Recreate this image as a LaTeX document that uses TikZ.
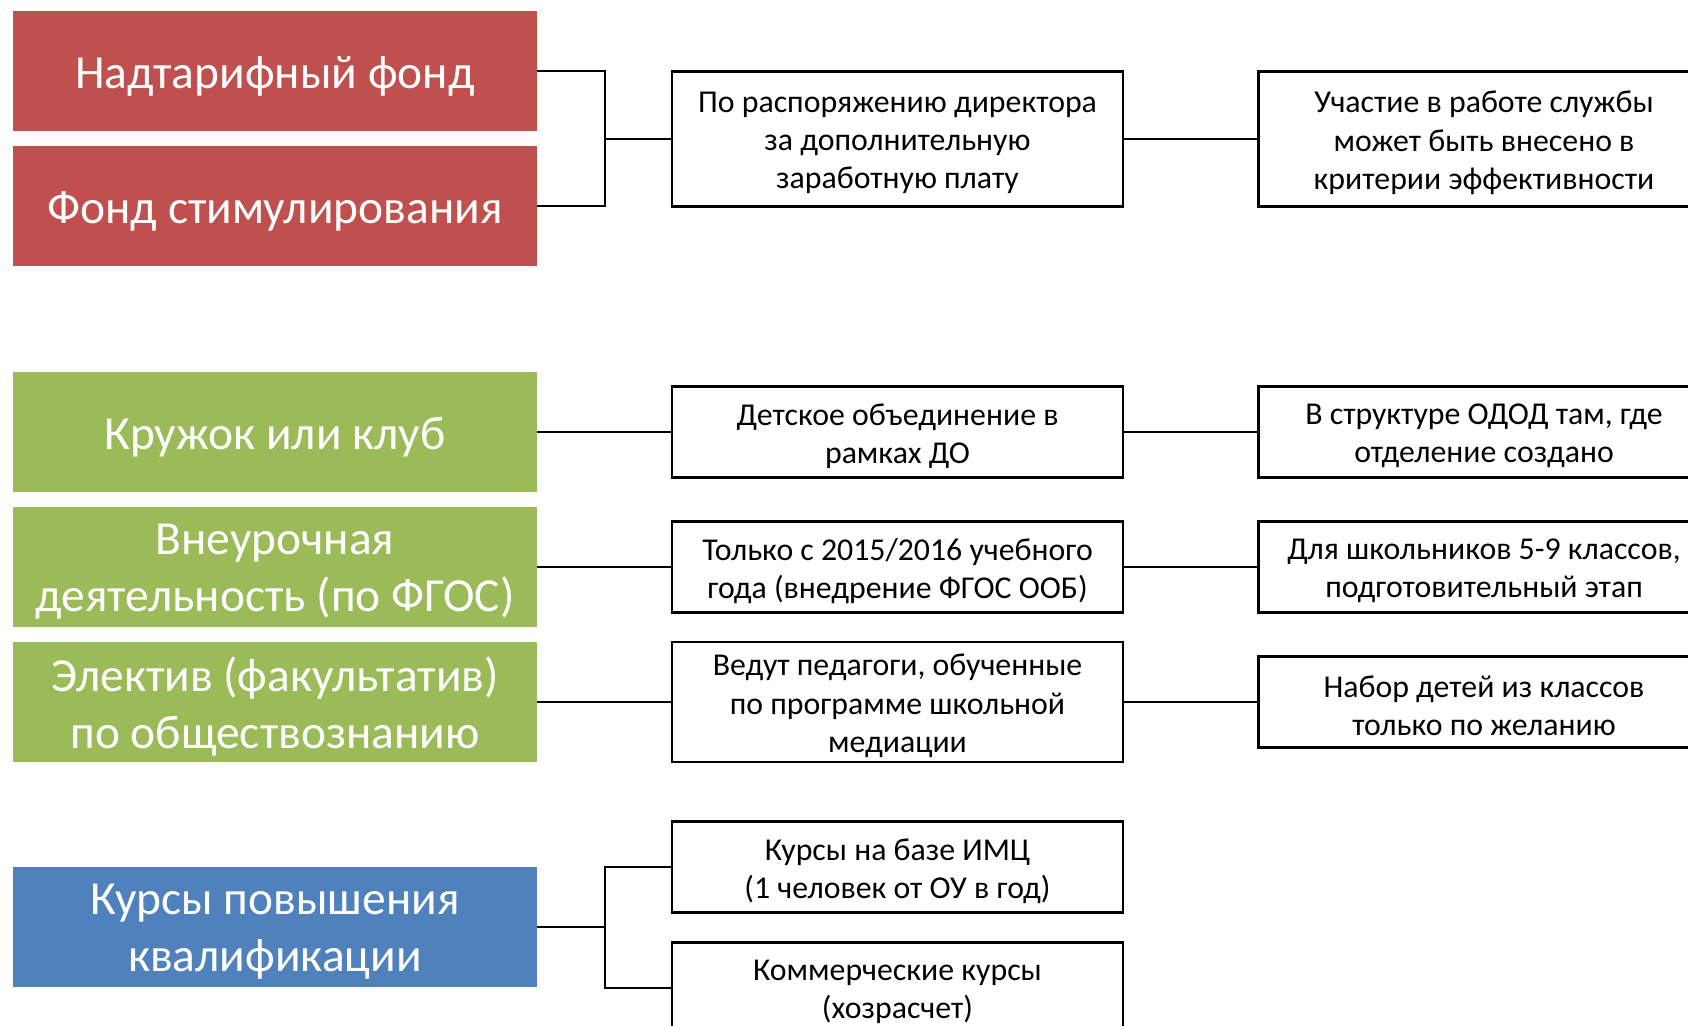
\documentclass[tikz,border=0pt]{standalone}
\usepackage{fontspec}
\setmainfont{Carlito}
\definecolor{accred}{HTML}{C0504D}
\definecolor{accgreen}{HTML}{9BBB59}
\definecolor{accblue}{HTML}{4F81BD}
\begin{document}
\begin{tikzpicture}[x=0.02cm,y=-0.02cm,
  catbox/.style={inner sep=0pt, minimum width=10.48cm, minimum height=2.4cm},
  cattext/.style={inner sep=0pt, yshift=-0.1cm, text=white, align=center, font=\fontsize{27}{32.4}\selectfont},
  txtbox/.style={draw=black, line width=1.5pt, fill=white, inner sep=0pt, minimum width=9.02cm, minimum height=1.82cm},
  boxtext/.style={inner sep=0pt, yshift=-0.08cm, align=center, font=\fontsize{18.1}{21.8}\selectfont},
  link/.style={draw=black, line width=1.5pt}
]
\clip (0,0) rectangle (1688,1026);
\fill[white] (0,0) rectangle (1688,1026);
% left category boxes
\node[catbox, fill=accred, label={[cattext]center:{Надтарифный фонд}}] (r1) at (275,71) {};
\node[catbox, fill=accred, label={[cattext]center:{Фонд стимулирования}}] (r2) at (275,206) {};
\node[catbox, fill=accgreen, label={[cattext]center:{Кружок или клуб}}] (g1) at (275,432) {};
\node[catbox, fill=accgreen, label={[cattext]center:{Внеурочная\\деятельность (по ФГОС)}}] (g2) at (275,567) {};
\node[catbox, fill=accgreen, label={[cattext]center:{Электив (факультатив)\\по обществознанию}}] (g3) at (275,702) {};
\node[catbox, fill=accblue, label={[cattext]center:{Курсы повышения\\квалификации}}] (b1) at (275,927) {};
% middle column
\node[txtbox, minimum height=2.7cm, label={[boxtext]center:{По распоряжению директора\\за дополнительную\\заработную плату}}] (A) at (897.5,139) {};
\node[txtbox, label={[boxtext]center:{Детское объединение в\\рамках ДО}}] (C) at (897.5,432) {};
\node[txtbox, label={[boxtext]center:{Только с 2015/2016 учебного\\года (внедрение ФГОС ООБ)}}] (E) at (897.5,567) {};
\node[txtbox, minimum height=2.4cm, label={[boxtext]center:{Ведут педагоги, обученные\\по программе школьной\\медиации}}] (G) at (897.5,702) {};
\node[txtbox, label={[boxtext]center:{Курсы на базе ИМЦ\\(1 человек от ОУ в год)}}] (I) at (897.5,867) {};
\node[txtbox, label={[boxtext]center:{Коммерческие курсы\\(хозрасчет)}}] (J) at (897.5,988) {};
% right column
\node[txtbox, minimum height=2.7cm, label={[boxtext]center:{Участие в работе службы\\может быть внесено в\\критерии эффективности}}] (B) at (1484,139) {};
\node[txtbox, label={[boxtext]center:{В структуре ОДОД там, где\\отделение создано}}] (D) at (1484,432) {};
\node[txtbox, label={[boxtext]center:{Для школьников 5-9 классов,\\подготовительный этап}}] (F) at (1484,567) {};
\node[txtbox, label={[boxtext]center:{Набор детей из классов\\только по желанию}}] (H) at (1484,702) {};
% junctions
\coordinate (j1) at (605,139);
\coordinate (j2) at (605,927);
% connectors
\draw[link] (r1.east) -| (j1) |- (r2.east);
\draw[link] (j1) -- (A.west);
\draw[link] (A.east) -- (B.west);
\draw[link] (g1.east) -- (C.west);
\draw[link] (C.east) -- (D.west);
\draw[link] (g2.east) -- (E.west);
\draw[link] (E.east) -- (F.west);
\draw[link] (g3.east) -- (G.west);
\draw[link] (G.east) -- (H.west);
\draw[link] (b1.east) -- (j2);
\draw[link] (I.west) -| (j2) |- (J.west);
\end{tikzpicture}
\end{document}
